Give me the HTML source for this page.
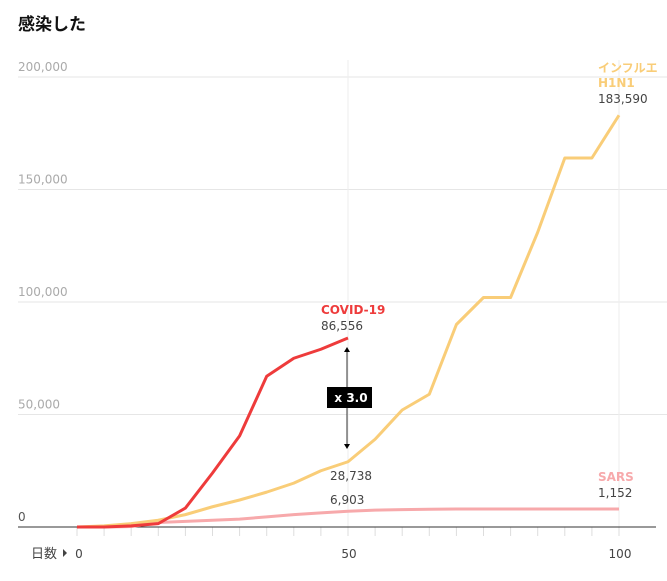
<!DOCTYPE html>
<html><head><meta charset="utf-8"><style>
body{margin:0;background:#fff;width:667px;height:577px;overflow:hidden;font-family:"DejaVu Sans","Noto Sans CJK JP",sans-serif}
svg text{font-family:"DejaVu Sans","Noto Sans CJK JP",sans-serif}
</style></head><body>
<svg id="c" width="667" height="577">
<defs><clipPath id="cp"><rect x="0" y="0" width="658" height="577"/></clipPath></defs>
<text x="18" y="30" font-size="17" font-weight="bold" fill="#111" style="font-family:'Noto Sans CJK JP',sans-serif">感染した</text>
<g id="grid"></g><g id="series"></g><g id="ann" clip-path="url(#cp)"></g>
</svg>
<script>
const yTicks=[0,50000,100000,150000,200000];
const yTickLabels=["0","50,000","100,000","150,000","200,000"];
const xTickLabels=[0,50,100];
const covidDays=[0,5,10,15,20,25,30,35,40,45,50];
const covidVals=[0,0,500,1500,8400,24000,40500,67000,75000,79000,84000];
const h1n1Days=[0,5,10,15,20,25,30,35,40,45,50,55,60,65,70,75,80,85,90,95,100];
const h1n1Vals=[0,500,1500,3000,5500,9000,12000,15500,19500,25000,29000,39000,52000,59000,90000,102000,102000,131000,164000,164000,183000];
const sarsDays=[0,5,10,15,20,25,30,35,40,45,50,55,60,65,70,75,80,85,90,95,100];
const sarsVals=[0,0,200,2000,2500,3000,3500,4500,5500,6300,7000,7500,7700,7900,8000,8000,8000,8000,8000,8000,8000];
const NS="http://www.w3.org/2000/svg";
const X=d=>77+d*5.42, Y=v=>527-v*0.00225;
function mk(t,a,p){const e=document.createElementNS(NS,t);for(const k in a)e.setAttribute(k,a[k]);p.appendChild(e);return e;}
const g=document.getElementById('grid'),s=document.getElementById('series'),an=document.getElementById('ann');
yTicks.forEach((v,i)=>{
 if(v>0){const l=mk('line',{x1:18,x2:667,y1:Y(v),y2:Y(v),stroke:'#e6e6e6'},g);
 
 }
 const t=mk('text',{x:18,y:Y(v)-6,'font-size':12,fill:i==0?'#555':'#aaa'},g);t.textContent=yTickLabels[i];
 
 
});
[50,100].forEach(d=>{const l=mk('line',{x1:X(d),x2:X(d),y1:60,y2:527,stroke:'#eee'},g);
 
 });
for(let d=0;d<=100;d+=5){const l=mk('line',{x1:X(d),x2:X(d),y1:527,y2:536,stroke:'#ddd'},g);
 
 }
const base=mk('line',{x1:18,x2:656,y1:527,y2:527,stroke:'#333'},g);


xTickLabels.forEach(d=>{const t=mk('text',{x:X(d)+(d==0?2:1),y:558,'font-size':12,fill:'#444','text-anchor':'middle'},g);t.textContent=d;
 
 });
const xl=mk('text',{x:31,y:558,'font-size':13,fill:'#444',style:"font-family:'Noto Sans CJK JP',sans-serif"},g);xl.textContent='日数';


const tri=mk('path',{d:'M63,549 L67,553 L63,557 Z',fill:'#444'},g);


function line(days,vals,col,name){const p=mk('polyline',{points:days.map((d,i)=>X(d)+','+Y(vals[i])).join(' '),fill:'none',stroke:col,'stroke-width':3,'stroke-linejoin':'round'},s);
 
 }
line(sarsDays,sarsVals,'#f7a9ab','sars-line');
line(h1n1Days,h1n1Vals,'#f9cd78','h1n1-line');
line(covidDays,covidVals,'#ee3b3b','covid-line');
function txt(x,y,str,col,bold,name){const t=mk('text',{x:x,y:y,'font-size':12,fill:col,'font-weight':bold?'bold':'normal'},an);t.textContent=str;
 
 }
txt(321,314,'COVID-19','#ee3b3b',1,'covid-label');
txt(321,330,'86,556','#444',0,'covid-value');
txt(598,72,'インフルエンザ','#f9cd78',1,'h1n1-label');
txt(598,87,'H1N1','#f9cd78',1,'h1n1-label-2');
txt(598,103,'183,590','#444',0,'h1n1-value');
txt(330,480,'28,738','#444',0,'h1n1-50-value');
txt(330,504,'6,903','#444',0,'sars-50-value');
txt(598,481,'SARS','#f7a9ab',1,'sars-label');
txt(598,497,'1,152','#444',0,'sars-value');
const ar=mk('line',{x1:347,x2:347,y1:350,y2:446,stroke:'#333'},an);


mk('path',{d:'M344,352 L347,347 L350,352Z M344,444 L347,449 L350,444Z',fill:'#000'},an);
const bx=mk('rect',{x:327,y:387,width:45,height:21,fill:'#000'},an);


const rt=mk('text',{x:351,y:402,'font-size':12,'font-weight':'bold',fill:'#fff','text-anchor':'middle'},an);rt.textContent='x 3.0';


</script>
</body></html>
